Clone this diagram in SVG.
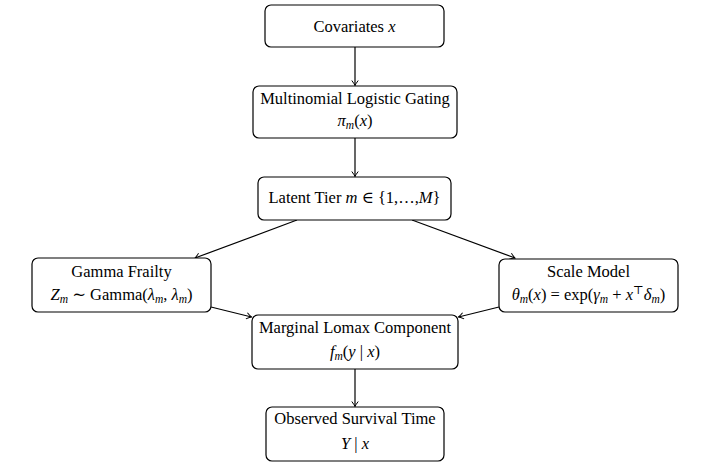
<svg xmlns="http://www.w3.org/2000/svg" width="710" height="468" viewBox="0 0 710 468">
<style>
.box{fill:#fff;stroke:#000;stroke-width:1.2}
.t{font-family:"Liberation Serif","DejaVu Serif",serif;font-size:16.5px;fill:#000;text-anchor:middle}
.i{font-style:italic}
.s{font-size:11.5px;font-style:italic}
.e{stroke:#000;stroke-width:1.2;fill:none;marker-end:url(#ah)}
</style>
<defs>
<marker id="ah" viewBox="-6 -4 7 8" refX="0" refY="0" markerWidth="7" markerHeight="8" markerUnits="userSpaceOnUse" orient="auto">
<path d="M-5,-3.2 Q-1.5,-0.6 0,0 Q-1.5,0.6 -5,3.2" fill="none" stroke="#000" stroke-width="1"/>
</marker>
</defs>
<rect width="710" height="468" fill="#fff"/>
<g id="connectors">
<line class="e" x1="355" y1="47" x2="355" y2="85.5"/>
<line class="e" x1="355" y1="138" x2="355" y2="176.5"/>
<line class="e" x1="297" y1="220" x2="195" y2="258"/>
<line class="e" x1="412" y1="220" x2="515" y2="258"/>
<line class="e" x1="211" y1="307" x2="251.5" y2="317"/>
<line class="e" x1="499" y1="307" x2="458.5" y2="317"/>
<line class="e" x1="355" y1="369" x2="355" y2="406.5"/>
</g>
<g id="covariates">
<rect class="box" x="265" y="5" width="179" height="42" rx="6"/>
<text class="t" x="354.5" y="32">Covariates <tspan class="i">x</tspan></text>
</g>
<g id="gating">
<rect class="box" x="253" y="86" width="204" height="52" rx="6"/>
<text class="t" x="355" y="104">Multinomial Logistic Gating</text>
<text class="t" x="355" y="126"><tspan class="i">π</tspan><tspan class="s" dy="3">m</tspan><tspan dy="-3">(</tspan><tspan class="i">x</tspan>)</text>
</g>
<g id="latent">
<rect class="box" x="258" y="177" width="193" height="43" rx="6"/>
<text class="t" x="354.5" y="203">Latent Tier <tspan class="i">m</tspan> ∈ {1,…,<tspan class="i">M</tspan>}</text>
</g>
<g id="frailty">
<rect class="box" x="32" y="258" width="179" height="54" rx="6"/>
<text class="t" x="121.5" y="277">Gamma Frailty</text>
<text class="t" x="121.5" y="300"><tspan class="i">Z</tspan><tspan class="s" dy="3">m</tspan><tspan dy="-3"> ∼ Gamma(</tspan><tspan class="i">λ</tspan><tspan class="s" dy="3">m</tspan><tspan dy="-3">, </tspan><tspan class="i">λ</tspan><tspan class="s" dy="3">m</tspan><tspan dy="-3">)</tspan></text>
</g>
<g id="scale">
<rect class="box" x="499" y="259" width="179" height="53" rx="6"/>
<text class="t" x="588.5" y="277">Scale Model</text>
<text class="t" x="588.5" y="300"><tspan class="i">θ</tspan><tspan class="s" dy="3">m</tspan><tspan dy="-3">(</tspan><tspan class="i">x</tspan>) = exp(<tspan class="i">γ</tspan><tspan class="s" dy="3">m</tspan><tspan dy="-3"> + </tspan><tspan class="i">x</tspan><tspan font-size="11.5" dy="-6">⊤</tspan><tspan dy="6" class="i">δ</tspan><tspan class="s" dy="3">m</tspan><tspan dy="-3">)</tspan></text>
</g>
<g id="lomax">
<rect class="box" x="252" y="315" width="206" height="54" rx="6"/>
<text class="t" x="355" y="333">Marginal Lomax Component</text>
<text class="t" x="355" y="357"><tspan class="i">f</tspan><tspan class="s" dy="3">m</tspan><tspan dy="-3">(</tspan><tspan class="i">y</tspan> | <tspan class="i">x</tspan>)</text>
</g>
<g id="observed">
<rect class="box" x="266" y="407" width="178" height="54" rx="6"/>
<text class="t" x="355" y="424">Observed Survival Time</text>
<text class="t" x="355" y="449"><tspan class="i">Y</tspan> | <tspan class="i">x</tspan></text>
</g>
</svg>
